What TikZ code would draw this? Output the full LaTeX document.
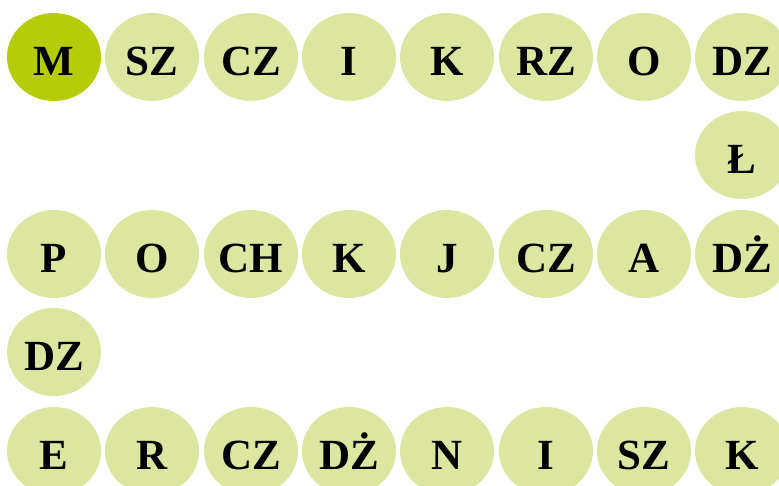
\documentclass[tikz,border=0pt]{standalone}
\usepackage{fontspec}
\setmainfont{Liberation Serif}
\usetikzlibrary{shapes.geometric}
\definecolor{curfill}{HTML}{B5CC0A}
\definecolor{tilefill}{HTML}{DCE6A1}

\begin{document}
\begin{tikzpicture}[x=1pt, y=-1pt,
  tile/.style={ellipse, fill=tilefill, minimum width=94pt, minimum height=88pt,
               inner sep=0pt, text height=37pt, text depth=0pt,
               font=\fontsize{43}{48}\selectfont\bfseries},
  cur/.style={tile, fill=curfill},
]
\useasboundingbox (0,0) rectangle (779,485);
\clip (0,0) rectangle (779,485);
% row 1, left to right
\node[cur]  (t1)  at ( 54, 57) {M};
\node[tile] (t2)  at (152, 57) {SZ};
\node[tile] (t3)  at (251, 57) {CZ};
\node[tile] (t4)  at (349, 57) {I};
\node[tile] (t5)  at (447, 57) {K};
\node[tile] (t6)  at (546, 57) {RZ};
\node[tile] (t7)  at (644, 57) {O};
\node[tile] (t8)  at (742, 57) {DZ};
% turn down on the right
\node[tile] (t9)  at (742,155) {Ł};
% row 3, right to left
\node[tile] (t10) at (742,254) {DŻ};
\node[tile] (t11) at (644,254) {A};
\node[tile] (t12) at (546,254) {CZ};
\node[tile] (t13) at (447,254) {J};
\node[tile] (t14) at (349,254) {K};
\node[tile] (t15) at (251,254) {CH};
\node[tile] (t16) at (152,254) {O};
\node[tile] (t17) at ( 54,254) {P};
% turn down on the left
\node[tile] (t18) at ( 54,352) {DZ};
% row 5, left to right
\node[tile] (t19) at ( 54,451) {E};
\node[tile] (t20) at (152,451) {R};
\node[tile] (t21) at (251,451) {CZ};
\node[tile] (t22) at (349,451) {DŻ};
\node[tile] (t23) at (447,451) {N};
\node[tile] (t24) at (546,451) {I};
\node[tile] (t25) at (644,451) {SZ};
\node[tile] (t26) at (742,451) {K};
\end{tikzpicture}
\end{document}
